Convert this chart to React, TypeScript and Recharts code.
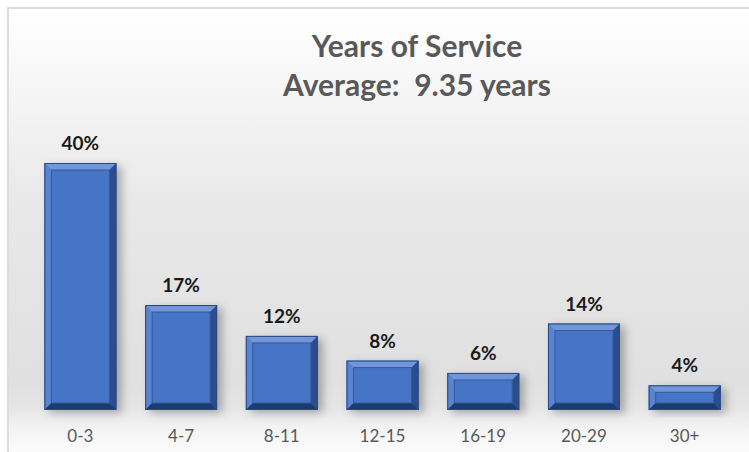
import React from 'react';
import { BarChart, Bar, XAxis, YAxis, LabelList } from 'recharts';

const ranges = ['0-3', '4-7', '8-11', '12-15', '16-19', '20-29', '30+'];
const shares = [40, 17, 12, 8, 6, 14, 4];

const titleLine1 = 'Years of Service';
const titleLine2 = 'Average:  9.35 years';

const data = ranges.map((range, i) => ({ range, pct: shares[i] }));

const FONT = 'Lato, "Open Sans", sans-serif';

// bar with a bevelled edge, like the office "bevel" effect
function BevelBar(props: any) {
  const { x, y, width: w, height: h } = props;
  if (!h || h <= 0) return null;
  const b = Math.min(7, h / 2);
  const pts = (arr: number[][]) => arr.map((p) => p.join(',')).join(' ');
  return (
    <g filter="url(#barShadow)">
      <rect x={x} y={y} width={w} height={h} fill="#4472c4" />
      <polygon points={pts([[x, y], [x + w, y], [x + w - b, y + b], [x + b, y + b]])} fill="#7196da" />
      <polygon points={pts([[x, y], [x + b, y + b], [x + b, y + h - b], [x, y + h]])} fill="#5a83d0" />
      <polygon points={pts([[x + w, y], [x + w, y + h], [x + w - b, y + h - b], [x + w - b, y + b]])} fill="#2b4d8c" />
      <polygon points={pts([[x, y + h], [x + b, y + h - b], [x + w - b, y + h - b], [x + w, y + h]])} fill="#1f3b70" />
      <rect x={x + b} y={y + b} width={w - 2 * b} height={h - 2 * b} fill="#4674c6" stroke="#35599b" strokeWidth={1} />
      <rect x={x + 0.5} y={y + 0.5} width={w - 1} height={h - 1} fill="none" stroke="#2a4880" strokeWidth={1} />
    </g>
  );
}

export default function App() {
  return (
    <div style={{ position: 'absolute', left: 0, top: 0, width: 749, height: 452, overflow: 'hidden', background: '#fff' }}>
      <div
        style={{
          position: 'absolute',
          left: 7,
          top: 7,
          width: 742,
          height: 445,
          boxSizing: 'border-box',
          borderLeft: '2px solid #dcdcdc',
          borderTop: '2px solid #dcdcdc',
          background:
            'linear-gradient(to bottom, #ffffff 0%, #fafafa 10%, #e8e8e8 45%, #e0e0e0 84%, #e5e5e5 90%, #f4f4f4 95%, #fbfbfb 100%)',
        }}
      />
      <svg width={749} height={452} style={{ position: 'absolute', left: 0, top: 0 }}>
        <text x={417} y={57} textAnchor="middle" fontFamily={FONT} fontWeight={700} fontSize={30} fill="#595959">
          {titleLine1}
        </text>
        <text
          x={417}
          y={96}
          textAnchor="middle"
          fontFamily={FONT}
          fontWeight={700}
          fontSize={30}
          fill="#595959"
          style={{ whiteSpace: 'pre' }}
        >
          {titleLine2}
        </text>
      </svg>
      <div style={{ position: 'absolute', left: 0, top: 0 }}>
        <BarChart
          width={749}
          height={452}
          data={data}
          margin={{ top: 163, right: 14, left: 30, bottom: 0 }}
          barCategoryGap="14.3%"
        >
          <defs>
            <filter id="barShadow" x="-20%" y="-20%" width="150%" height="150%">
              <feDropShadow dx={5} dy={3} stdDeviation={4} floodColor="#000" floodOpacity={0.28} />
            </filter>
          </defs>
          <XAxis
            dataKey="range"
            axisLine={false}
            tickLine={false}
            height={42}
            tickMargin={14}
            tick={{ fill: '#595959', fontSize: 17, fontFamily: FONT }}
          />
          <YAxis hide domain={[0, 40]} />
          <Bar dataKey="pct" shape={<BevelBar />} isAnimationActive={false}>
            <LabelList
              dataKey="pct"
              position="top"
              offset={13}
              formatter={(v: any) => `${v}%`}
              style={{ fill: '#1a1a1a', fontSize: 19, fontWeight: 700, fontFamily: FONT }}
            />
          </Bar>
        </BarChart>
      </div>
    </div>
  );
}
